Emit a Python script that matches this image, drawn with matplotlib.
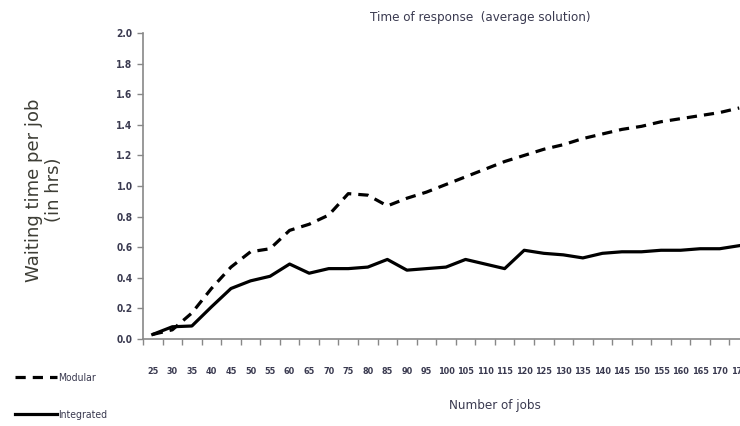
import matplotlib
matplotlib.use('Agg')
import matplotlib.pyplot as plt
from matplotlib.ticker import FixedLocator, FormatStrFormatter

# number of jobs (categories) and waiting time per job in hours
jobs = list(range(25, 180, 5))
modular = [0.03, 0.06, 0.17, 0.33, 0.47, 0.57, 0.59, 0.71, 0.75, 0.81,
           0.95, 0.94, 0.87, 0.92, 0.96, 1.01, 1.06, 1.11, 1.16, 1.20,
           1.24, 1.27, 1.31, 1.34, 1.37, 1.39, 1.42, 1.44, 1.46, 1.48, 1.51]
integrated = [0.03, 0.08, 0.085, 0.21, 0.33, 0.38, 0.41, 0.49, 0.43, 0.46,
              0.46, 0.47, 0.52, 0.45, 0.46, 0.47, 0.52, 0.49, 0.46, 0.58,
              0.56, 0.55, 0.53, 0.56, 0.57, 0.57, 0.58, 0.58, 0.59, 0.59, 0.61]
y_ticks = [0.0, 0.2, 0.4, 0.6, 0.8, 1.0, 1.2, 1.4, 1.6, 1.8, 2.0]

txt_col = '#3a3a50'
cond = dict(family='DejaVu Sans', stretch='condensed')

fig = plt.figure(figsize=(7.4, 4.26), dpi=100)
# axes runs a little past the right edge, as in the source image
ax = fig.add_axes([143 / 740, 87 / 426, 606 / 740, 306 / 426])

x = list(range(len(jobs)))
l1, = ax.plot(x, modular, color='black', lw=2.3, linestyle=(0, (3.2, 2.2)),
              label='Modular')
l2, = ax.plot(x, integrated, color='black', lw=2.3, label='Integrated')

ax.set_xlim(-0.5, len(jobs) - 0.5)
ax.set_ylim(0, 2.0)
ax.set_xticks(x)
ax.set_xticklabels([str(j) for j in jobs], fontsize=6.5, color=txt_col,
                   fontweight='bold', **cond)
ax.xaxis.set_minor_locator(FixedLocator([i - 0.5 for i in range(len(jobs) + 1)]))
ax.tick_params(axis='x', which='major', length=0, pad=20)
ax.tick_params(axis='x', which='minor', length=4, color='#888888', width=1)
ax.set_yticks(y_ticks)
ax.yaxis.set_major_formatter(FormatStrFormatter('%.1f'))
ax.tick_params(axis='y', length=4, color='#888888', width=1, labelsize=7.3,
               labelcolor=txt_col)
for lab in ax.get_yticklabels():
    lab.set_family('DejaVu Sans')
    lab.set_stretch('condensed')
    lab.set_fontweight('bold')

for s in ['top', 'right']:
    ax.spines[s].set_visible(False)
for s in ['left', 'bottom']:
    ax.spines[s].set_color('#888888')
    ax.spines[s].set_linewidth(1.2)

fig.text(480 / 740, 1 - 18 / 426, 'Time of response  (average solution)',
         ha='center', va='center', fontsize=9.5, color=txt_col, **cond)
fig.text(495 / 740, 1 - 405 / 426, 'Number of jobs', ha='center', va='center',
         fontsize=9.5, color=txt_col, **cond)
fig.text(44 / 740, 1 - 190 / 426, 'Waiting time per job\n(in hrs)', rotation=90,
         ha='center', va='center', fontsize=13, color='#3d3d35',
         linespacing=1.15, family='DejaVu Sans')

fig.legend(handles=[l1, l2], loc='lower left', bbox_to_anchor=(0.008, -0.008),
           frameon=False, handlelength=4.0, handletextpad=0.15,
           labelspacing=2.6, prop={'family': 'DejaVu Sans', 'stretch': 'condensed',
                                   'size': 7.5},
           labelcolor=txt_col)

fig.savefig('out.png', dpi=100)
